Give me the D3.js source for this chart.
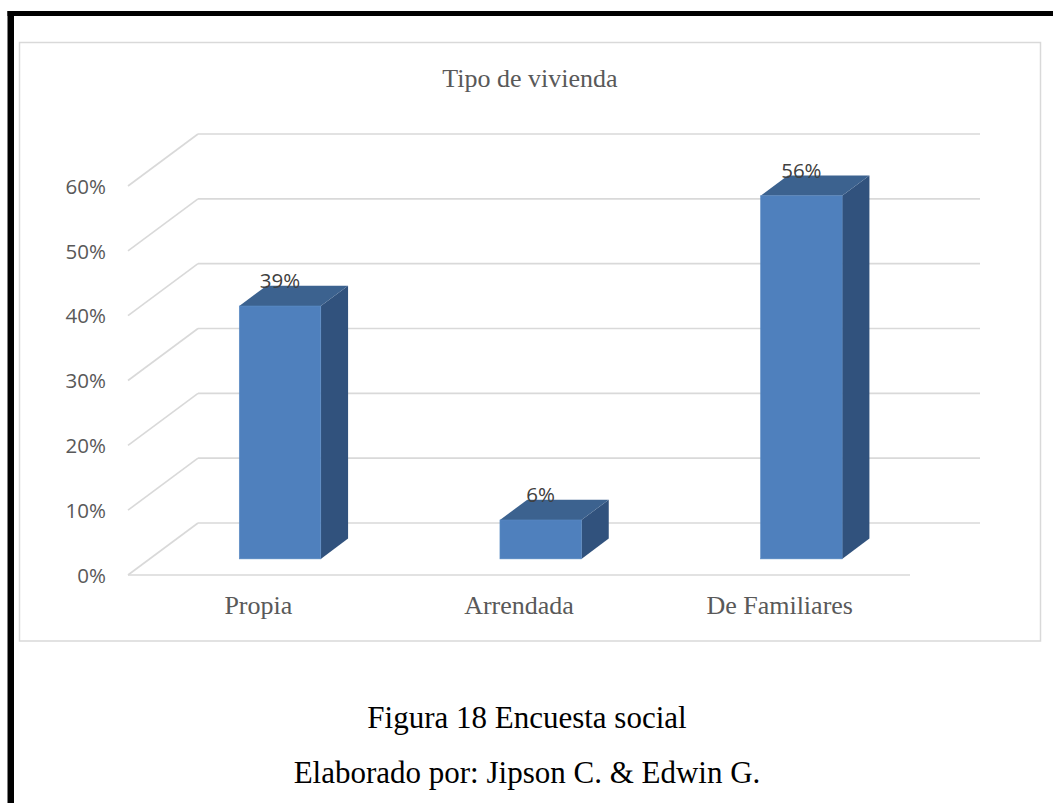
<!DOCTYPE html>
<html>
<head>
<meta charset="utf-8">
<script src="https://cdn.jsdelivr.net/npm/d3@7"></script>
<style>
  html, body { margin: 0; padding: 0; background: #fff; }
  svg { display: block; }
</style>
</head>
<body>
<svg id="chart" width="1053" height="803"></svg>
<script>
// Vivienda: share of respondents by housing type
const categories = ["Propia", "Arrendada", "De Familiares"];
const values = [0.39, 0.06, 0.56];
const valueLabels = ["39%", "6%", "56%"];
const tickValues = [0, 0.1, 0.2, 0.3, 0.4, 0.5, 0.6];
const chartTitle = "Tipo de vivienda";
const captionLines = ["Figura 18 Encuesta social", "Elaborado por: Jipson C. & Edwin G."];

const svg = d3.select("#chart");

// page frame: heavy black rule on the left and top
svg.append("rect").attr("x", 7.5).attr("y", 11).attr("width", 6.5).attr("height", 800).attr("fill", "#000");
svg.append("rect").attr("x", 7.5).attr("y", 11).attr("width", 1050).attr("height", 5).attr("fill", "#000");

// chart area border
svg.append("rect")
  .attr("x", 19.5).attr("y", 42.5).attr("width", 1021).attr("height", 598.5)
  .attr("fill", "#fff").attr("stroke", "#d9d9d9").attr("stroke-width", 1.5);

// 3-D layout: front floor edge, depth vector of the box
const floorLeft = 128, floorRight = 910;
const depth = { dx: 70, dy: -52 };

const x = d3.scaleBand().domain(categories).range([floorLeft, floorRight]).padding(0);
const y = d3.scaleLinear().domain([0, 0.6]).range([575, 186]);

const grid = svg.append("g").attr("stroke", "#d9d9d9").attr("stroke-width", 1.6).attr("fill", "none");

// back-wall gridlines and left-wall diagonals
tickValues.forEach(v => {
  const yf = y(v);
  grid.append("line")
    .attr("x1", floorLeft).attr("y1", yf)
    .attr("x2", floorLeft + depth.dx).attr("y2", yf + depth.dy);
  grid.append("line")
    .attr("x1", floorLeft + depth.dx).attr("y1", yf + depth.dy)
    .attr("x2", floorRight + depth.dx).attr("y2", yf + depth.dy);
});
// front edge of the floor
grid.append("line")
  .attr("x1", floorLeft).attr("y1", y(0))
  .attr("x2", floorRight).attr("y2", y(0));

// value axis labels
const axis = d3.axisLeft(y).tickValues(tickValues).tickFormat(d3.format(".0%")).tickSize(0).tickPadding(0);
const axisG = svg.append("g").attr("transform", "translate(106,0)").call(axis);
axisG.select(".domain").remove();
axisG.selectAll("text")
  .attr("font-family", "'Open Sans', sans-serif")
  .attr("font-size", 20.5)
  .attr("fill", "#595959")
  .attr("dy", "0.35em");

// bars: front face, top and right side
const barFront = 0.31, barBack = 0.70; // depth positions within the box
const barWidth = 81.5;
const fx = depth.dx * barFront, fy = depth.dy * barFront;
const bdx = depth.dx * (barBack - barFront), bdy = depth.dy * (barBack - barFront);

const bars = svg.append("g");
categories.forEach((c, i) => {
  const cx = x(c) + x.bandwidth() / 2 + fx;
  const x0 = cx - barWidth / 2, x1 = cx + barWidth / 2;
  const yb = y(0) + fy;
  const yt = y(values[i]) + fy;
  const g = bars.append("g");
  // side
  g.append("path")
    .attr("d", `M${x1},${yb} L${x1 + bdx},${yb + bdy} L${x1 + bdx},${yt + bdy} L${x1},${yt} Z`)
    .attr("fill", "#31527d");
  // top
  g.append("path")
    .attr("d", `M${x0},${yt} L${x0 + bdx},${yt + bdy} L${x1 + bdx},${yt + bdy} L${x1},${yt} Z`)
    .attr("fill", "#3c628f");
  // front
  g.append("rect")
    .attr("x", x0).attr("y", yt).attr("width", barWidth).attr("height", yb - yt)
    .attr("fill", "#4f80bd").attr("stroke", "#5a8ac4").attr("stroke-width", 0.6);
  // data label
  g.append("text")
    .attr("x", cx).attr("y", yt + bdy + 2)
    .attr("text-anchor", "middle")
    .attr("font-family", "'Open Sans', sans-serif")
    .attr("font-size", 20.5)
    .attr("fill", "#404040")
    .text(valueLabels[i]);
});

// category labels
svg.append("g").selectAll("text").data(categories).join("text")
  .attr("x", d => x(d) + x.bandwidth() / 2)
  .attr("y", 614)
  .attr("text-anchor", "middle")
  .attr("font-family", "'Liberation Serif', 'Times New Roman', serif")
  .attr("font-size", 26)
  .attr("fill", "#595959")
  .text(d => d);

// chart title
svg.append("text")
  .attr("x", 530).attr("y", 87)
  .attr("text-anchor", "middle")
  .attr("font-family", "'Liberation Serif', 'Times New Roman', serif")
  .attr("font-size", 26)
  .attr("fill", "#595959")
  .text(chartTitle);

// caption below the chart
svg.append("g").selectAll("text").data(captionLines).join("text")
  .attr("x", 527)
  .attr("y", (d, i) => 728 + i * 55)
  .attr("text-anchor", "middle")
  .attr("font-family", "'Liberation Serif', 'Times New Roman', serif")
  .attr("font-size", 31)
  .attr("fill", "#000")
  .text(d => d);
</script>
</body>
</html>
